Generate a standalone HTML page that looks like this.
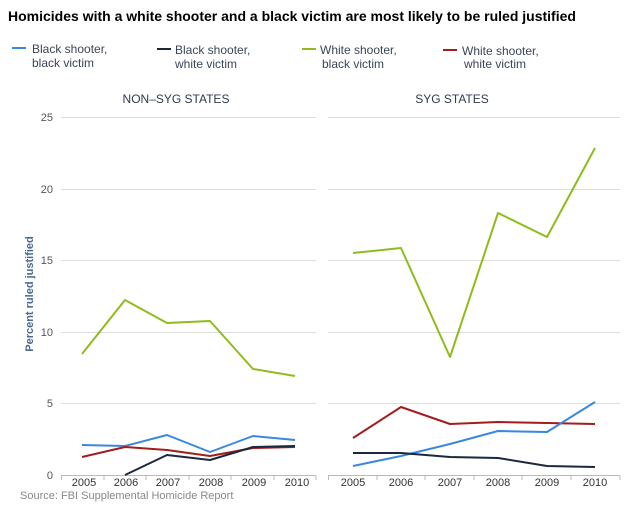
<!DOCTYPE html><html><head><style>body{margin:0;background:#fff}</style></head><body>
<svg width="630" height="504" xmlns="http://www.w3.org/2000/svg" font-family="Liberation Sans, sans-serif">
<text x="8" y="21" font-size="14" font-weight="bold" fill="#000">Homicides with a white shooter and a black victim are most likely to be ruled justified</text>
<g font-size="12" fill="#3a4558">
<line x1="12" y1="48" x2="26" y2="48" stroke="#3a87e0" stroke-width="2"/><text x="32" y="53">Black shooter,</text><text x="32" y="67">black victim</text>
<line x1="157" y1="49" x2="171" y2="49" stroke="#1a2a3c" stroke-width="2"/><text x="175" y="54">Black shooter,</text><text x="175" y="68">white victim</text>
<line x1="302" y1="49" x2="316" y2="49" stroke="#8fbc1c" stroke-width="2"/><text x="320" y="54">White shooter,</text><text x="322" y="68">black victim</text>
<line x1="443" y1="50" x2="457" y2="50" stroke="#a51c1c" stroke-width="2"/><text x="462" y="55">White shooter,</text><text x="464" y="68">white victim</text>
</g>
<g font-size="12" fill="#2e3b50" text-anchor="middle"><text x="176" y="103">NON–SYG STATES</text><text x="452" y="103">SYG STATES</text></g>
<g stroke="#ddd" stroke-width="1">
<path d="M61 117.5H316M61 189.5H316M61 260.5H316M61 332.5H316M61 403.5H316M328 117.5H620M328 189.5H620M328 260.5H620M328 332.5H620M328 403.5H620"/>
</g>
<g stroke="#bbb" stroke-width="1"><path d="M61 475.5H316M328 475.5H620M61.5 475v5M104 475v5M146 475v5M189 475v5M231 475v5M274 475v5M316 475v5M328.5 475v5M377 475v5M425 475v5M474 475v5M522 475v5M571 475v5M620 475v5"/></g>
<g font-size="11" fill="#555" text-anchor="end"><text x="53" y="121">25</text><text x="53" y="193">20</text><text x="53" y="264">15</text><text x="53" y="336">10</text><text x="53" y="407">5</text><text x="53" y="479">0</text></g>
<g font-size="11" fill="#333" text-anchor="middle">
<text x="84" y="486">2005</text><text x="126" y="486">2006</text><text x="168" y="486">2007</text><text x="211" y="486">2008</text><text x="254" y="486">2009</text><text x="297" y="486">2010</text>
<text x="353" y="486">2005</text><text x="401" y="486">2006</text><text x="450" y="486">2007</text><text x="498" y="486">2008</text><text x="547" y="486">2009</text><text x="595" y="486">2010</text>
</g>
<text transform="translate(33,294) rotate(-90)" font-size="11" font-weight="bold" fill="#4a6a94" text-anchor="middle">Percent ruled justified</text>
<text x="20" y="499" font-size="11" fill="#888">Source: FBI Supplemental Homicide Report</text>
<g fill="none" stroke-width="2" stroke-linejoin="round">
<polyline stroke="#8fbc1c" points="82,354 125,300 167,323 210,321 253,369 295,376"/>
<polyline stroke="#3a87e0" points="82,445 125,446 167,435 210,452 253,436 295,440"/>
<polyline stroke="#a51c1c" points="82,457 125,447 167,450 210,456 253,448 295,447"/>
<polyline stroke="#1a2a3c" points="125,475 167,455 210,460 253,447 295,446"/>
<polyline stroke="#8fbc1c" points="353,253 401,248 450,357 498,213 547,237 595,148"/>
<polyline stroke="#a51c1c" points="353,438 401,407 450,424 498,422 547,423 595,424"/>
<polyline stroke="#3a87e0" points="353,466 401,456 450,444 498,431 547,432 595,402"/>
<polyline stroke="#1a2a3c" points="353,453 401,453 450,457 498,458 547,466 595,467"/>
</g>
</svg></body></html>
